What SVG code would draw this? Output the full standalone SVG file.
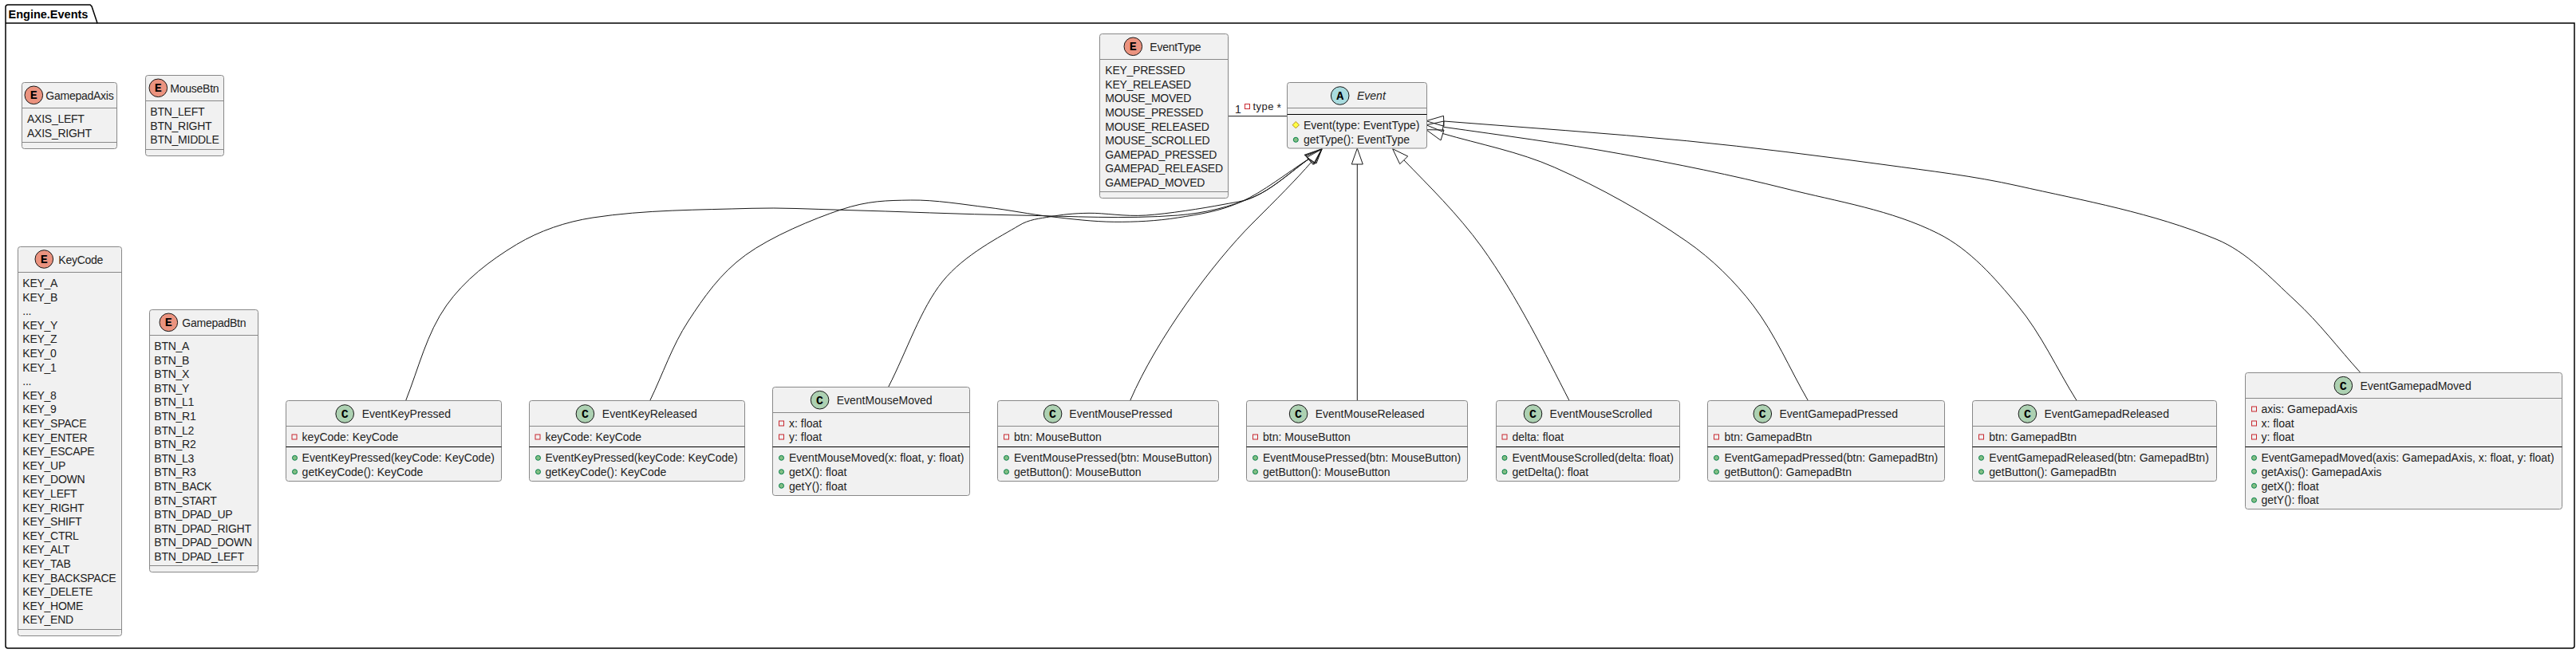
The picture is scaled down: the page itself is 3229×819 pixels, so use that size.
<svg xmlns="http://www.w3.org/2000/svg" width="3229" height="819" viewBox="0 0 3229 819">
<defs>
<style>
text{font-family:"Liberation Sans",Arial,sans-serif;font-size:14px;fill:#222}
.en text{letter-spacing:-.25px}
.bx{fill:#F1F1F1;stroke:#888;stroke-width:1}
.sep{stroke:#888;stroke-width:1;fill:none}
.div{stroke:#000;stroke-width:1;fill:none}
.ic{stroke:#181818;stroke-width:1}
.E{fill:#EB937F}.A{fill:#A9DCDF}.C{fill:#ADD1B2}
text.L{font-family:"Liberation Mono",monospace;font-weight:bold;font-size:15px;text-anchor:middle;fill:#000;letter-spacing:0}
.pv{fill:none;stroke:#C82930;stroke-width:1}
.pb{fill:#84BE84;stroke:#038048;stroke-width:1}
.pt{fill:#FFFF44;stroke:#B38D22;stroke-width:1}
.edge{fill:none;stroke:#181818;stroke-width:1}
.head{fill:none;stroke:#181818;stroke-width:1}
</style>
</defs>
<rect width="3229" height="819" fill="#fff"/>
<g id="package">
<path d="M7,29 L7,9 Q7,6 10,6 L113,6 L115,8 L122,29 L3227,29 L3227,810 Q3227,813 3224,813 L10,813 Q7,813 7,810 Z" fill="none" stroke="#000" stroke-width="1.5"/>
<line x1="7" y1="29" x2="122" y2="29" stroke="#000" stroke-width="1.5"/>
<text x="10.5" y="23" style="font-weight:bold;font-size:14.5px;fill:#000">Engine.Events</text>
</g>
<g id="connectors">
<path class="edge" d="M1539.3,145.7 L1613.7,145.7"/>
<text x="1548" y="142">1</text>
<rect class="pv" x="1560.5" y="130.5" width="6" height="6"/>
<text x="1570.5" y="138" style="font-size:13px;letter-spacing:.5px">type</text>
<text x="1600.5" y="140">*</text>
<path class="edge" d="M508.7,502.3 C524.6,462.3 534.8,418.1 559.7,383 C582.2,351.2 614,326.8 647.4,306.7 C676.5,289.2 709.4,278.2 743,273 C808.2,263 876,263.3 942,261.3 C979,260.2 1017,262.3 1054,263.3 C1128,265.2 1203,268.8 1277,270 C1343,271.1 1410.7,275.2 1476.5,270 C1509.4,267.4 1541.7,259.8 1572,246.7 C1597.7,235.6 1620,213.5 1641,199"/>
<polygon class="head" points="1657.3,186.7 1635,194.3 1648.3,205"/>
<path class="edge" d="M814.8,502.3 C830.8,469.3 842.7,433.4 862.6,403 C882.5,372.6 902.5,343.3 934.4,320 C966.3,296.7 1019.5,274.5 1054,263 C1088.5,251.5 1111.2,251.5 1141.7,251 C1172.2,250.5 1207.8,256.5 1237,260 C1266.2,263.5 1290.4,268.7 1317,271.7 C1343.6,274.7 1370.2,278.1 1396.8,278.3 C1423.4,278.5 1450,277.2 1476.5,273 C1503,268.8 1528.6,265.3 1556,253 C1583.4,240.7 1613,217 1641,199"/>
<polygon class="head" points="1657,186.7 1636,195 1647.5,206"/>
<path class="edge" d="M1113.8,485 C1136.3,441 1154.3,386.7 1181.5,353 C1208.7,319.3 1254.4,296.6 1277,283 C1290,275 1302.3,274.3 1317,271.7 C1331.7,269.1 1345,267.6 1365,267.3 C1385,267 1408.8,271.8 1436.6,270 C1464.4,268.2 1508.1,261.2 1532,256.7 C1555.9,252.2 1561.8,252.6 1580,243 C1598.2,233.4 1621,213.7 1641,199"/>
<polygon class="head" points="1656.5,187 1637,196 1646,206.5"/>
<path class="edge" d="M1416.7,502.3 C1450,425 1520,330 1570,280 C1600,250 1625,225 1644,203"/>
<polygon class="head" points="1657,187 1638,197.5 1650,205"/>
<path class="edge" d="M1701.3,502.3 L1701.3,206"/>
<polygon class="head" points="1701.3,186 1694.3,206 1708.3,206"/>
<path class="edge" d="M1967,502.3 C1937,444 1902,372 1857.5,310 C1827,268 1790,232 1760,201"/>
<polygon class="head" points="1745.6,186.7 1764.7,196 1754.7,205.7"/>
<path class="edge" d="M2266.3,502.3 C2243.3,462.5 2225.4,419.6 2197.5,383 C2174.5,352.8 2145.8,324.7 2114.6,303 C2062.9,267.1 2006.4,235.5 1948.8,210 C1904,190.2 1854.8,181 1807.8,167.3"/>
<polygon class="head" points="1787.7,162.7 1810,163 1806,176"/>
<path class="edge" d="M2603,502.3 C2578,462.3 2559,419.2 2529,383 C2500.3,348.4 2469.9,313.3 2429.7,293 C2370.8,263.3 2303,252.8 2239,236.7 C2170.1,219.4 2101.6,205.6 2031.7,193 C1957.9,179.7 1883.8,169.8 1809.5,159.3"/>
<polygon class="head" points="1787.7,156.7 1810,152 1808,165"/>
<path class="edge" d="M2958.7,467.3 C2931.2,437 2907.2,404.8 2877,377 C2846.1,348.6 2816.8,316 2778,300 C2698.5,267.1 2612.9,251.8 2529,233 C2474.3,220.7 2418.5,214.3 2363,206.7 C2280.7,195.5 2197.2,184.8 2114.6,176.7 C2013.1,166.7 1911,160 1810,152"/>
<polygon class="head" points="1787.7,151.7 1809.5,145.3 1810,158.3"/>
</g>
<g id="GamepadAxis" class="en">
<rect class="bx" x="27.5" y="103.5" width="119" height="83" rx="3"/>
<path class="sep" d="M27.5,135.5H146.5M27.5,178.5H146.5"/>
<circle class="ic E" cx="42.3" cy="119.3" r="11.3"/><text class="L" x="42.3" y="124">E</text>
<text x="57.3" y="125">GamepadAxis</text>
<text x="34" y="154">AXIS_LEFT</text><text x="34" y="171.6">AXIS_RIGHT</text>
</g>
<g id="MouseBtn" class="en">
<rect class="bx" x="182.5" y="94.5" width="98" height="101" rx="3"/>
<path class="sep" d="M182.5,126.5H280.5M182.5,187.5H280.5"/>
<circle class="ic E" cx="198.3" cy="110.3" r="11.3"/><text class="L" x="198.3" y="115">E</text>
<text x="213.3" y="116">MouseBtn</text>
<text x="188.3" y="145">BTN_LEFT</text><text x="188.3" y="162.6">BTN_RIGHT</text><text x="188.3" y="180.2">BTN_MIDDLE</text>
</g>
<g id="KeyCode" class="en">
<rect class="bx" x="22.5" y="309.5" width="130" height="488" rx="3"/>
<path class="sep" d="M22.5,341.5H152.5M22.5,789.5H152.5"/>
<circle class="ic E" cx="55.3" cy="325" r="11.3"/><text class="L" x="55.3" y="330">E</text>
<text x="73.3" y="330.7">KeyCode</text>
<text x="28.3" y="360">KEY_A</text><text x="28.3" y="377.6">KEY_B</text><text x="28.3" y="395.2">...</text><text x="28.3" y="412.8">KEY_Y</text><text x="28.3" y="430.4">KEY_Z</text><text x="28.3" y="448">KEY_0</text><text x="28.3" y="465.6">KEY_1</text><text x="28.3" y="483.2">...</text><text x="28.3" y="500.8">KEY_8</text><text x="28.3" y="518.4">KEY_9</text><text x="28.3" y="536">KEY_SPACE</text><text x="28.3" y="553.6">KEY_ENTER</text><text x="28.3" y="571.2">KEY_ESCAPE</text><text x="28.3" y="588.8">KEY_UP</text><text x="28.3" y="606.4">KEY_DOWN</text><text x="28.3" y="624">KEY_LEFT</text><text x="28.3" y="641.6">KEY_RIGHT</text><text x="28.3" y="659.2">KEY_SHIFT</text><text x="28.3" y="676.8">KEY_CTRL</text><text x="28.3" y="694.4">KEY_ALT</text><text x="28.3" y="712">KEY_TAB</text><text x="28.3" y="729.6">KEY_BACKSPACE</text><text x="28.3" y="747.2">KEY_DELETE</text><text x="28.3" y="764.8">KEY_HOME</text><text x="28.3" y="782.4">KEY_END</text>
</g>
<g id="GamepadBtn" class="en">
<rect class="bx" x="187.5" y="388.5" width="136" height="329" rx="3"/>
<path class="sep" d="M187.5,420.5H323.5M187.5,709.5H323.5"/>
<circle class="ic E" cx="211.3" cy="404.3" r="11.3"/><text class="L" x="211.3" y="409">E</text>
<text x="228.3" y="410">GamepadBtn</text>
<text x="193.3" y="439">BTN_A</text><text x="193.3" y="456.6">BTN_B</text><text x="193.3" y="474.2">BTN_X</text><text x="193.3" y="491.8">BTN_Y</text><text x="193.3" y="509.4">BTN_L1</text><text x="193.3" y="527">BTN_R1</text><text x="193.3" y="544.6">BTN_L2</text><text x="193.3" y="562.2">BTN_R2</text><text x="193.3" y="579.8">BTN_L3</text><text x="193.3" y="597.4">BTN_R3</text><text x="193.3" y="615">BTN_BACK</text><text x="193.3" y="632.6">BTN_START</text><text x="193.3" y="650.2">BTN_DPAD_UP</text><text x="193.3" y="667.8">BTN_DPAD_RIGHT</text><text x="193.3" y="685.4">BTN_DPAD_DOWN</text><text x="193.3" y="703">BTN_DPAD_LEFT</text>
</g>
<g id="EventType" class="en">
<rect class="bx" x="1378.5" y="42.5" width="161" height="206" rx="3"/>
<path class="sep" d="M1378.5,74.5H1539.5M1378.5,240.5H1539.5"/>
<circle class="ic E" cx="1420.3" cy="58.3" r="11.3"/><text class="L" x="1420.3" y="63">E</text>
<text x="1441.3" y="64">EventType</text>
<text x="1385.3" y="93.3">KEY_PRESSED</text><text x="1385.3" y="110.8">KEY_RELEASED</text><text x="1385.3" y="128.4">MOUSE_MOVED</text><text x="1385.3" y="145.9">MOUSE_PRESSED</text><text x="1385.3" y="163.5">MOUSE_RELEASED</text><text x="1385.3" y="181">MOUSE_SCROLLED</text><text x="1385.3" y="198.6">GAMEPAD_PRESSED</text><text x="1385.3" y="216.1">GAMEPAD_RELEASED</text><text x="1385.3" y="233.6">GAMEPAD_MOVED</text>
</g>
<g id="Event">
<rect class="bx" x="1613.5" y="103.5" width="175" height="82.5" rx="3"/>
<path class="sep" d="M1613.5,135.5H1788.5"/><path class="div" d="M1613.5,143.5H1788.5"/>
<circle class="ic A" cx="1679.7" cy="120" r="11.3"/><text class="L" x="1679.7" y="125">A</text>
<text x="1701" y="125" style="font-style:italic">Event</text>
<polygon class="pt" points="1624.3,152.5 1628.5,156.7 1624.3,160.9 1620.1,156.7"/>
<text x="1634" y="162">Event(type: EventType)</text>
<circle class="pb" cx="1624.3" cy="175.3" r="3"/>
<text x="1634" y="180">getType(): EventType</text>
</g>
<g id="EventKeyPressed">
<rect class="bx" x="358.5" y="502.5" width="270" height="101" rx="3"/>
<path class="sep" d="M358.5,534.5H628.5"/><path class="div" d="M358.5,560.5H628.5"/>
<circle class="ic C" cx="432.2" cy="519" r="11.3"/><text class="L" x="432.2" y="524">C</text>
<text x="453.7" y="524">EventKeyPressed</text>
<rect class="pv" x="366" y="545" width="6" height="6"/><text x="378.6" y="553">keyCode: KeyCode</text>
<circle class="pb" cx="369.5" cy="574.3" r="3"/><text x="378.6" y="579.3">EventKeyPressed(keyCode: KeyCode)</text>
<circle class="pb" cx="369.5" cy="591.7" r="3"/><text x="378.6" y="597">getKeyCode(): KeyCode</text>
</g>
<g id="EventKeyReleased">
<rect class="bx" x="663.5" y="502.5" width="270" height="101" rx="3"/>
<path class="sep" d="M663.5,534.5H933.5"/><path class="div" d="M663.5,560.5H933.5"/>
<circle class="ic C" cx="733.4" cy="519" r="11.3"/><text class="L" x="733.4" y="524">C</text>
<text x="754.8" y="524">EventKeyReleased</text>
<rect class="pv" x="671" y="545" width="6" height="6"/><text x="683.5" y="553">keyCode: KeyCode</text>
<circle class="pb" cx="674.5" cy="574.3" r="3"/><text x="683.5" y="579.3">EventKeyPressed(keyCode: KeyCode)</text>
<circle class="pb" cx="674.5" cy="591.7" r="3"/><text x="683.5" y="597">getKeyCode(): KeyCode</text>
</g>
<g id="EventMouseMoved">
<rect class="bx" x="968.5" y="485.5" width="247" height="136" rx="3"/>
<path class="sep" d="M968.5,517.5H1215.5"/><path class="div" d="M968.5,560.5H1215.5"/>
<circle class="ic C" cx="1027.6" cy="501.7" r="11.3"/><text class="L" x="1027.6" y="507">C</text>
<text x="1048.7" y="507">EventMouseMoved</text>
<rect class="pv" x="976.5" y="528" width="6" height="6"/><text x="989" y="536">x: float</text>
<rect class="pv" x="976.5" y="545" width="6" height="6"/><text x="989" y="553">y: float</text>
<circle class="pb" cx="979.5" cy="574.3" r="3"/><text x="989" y="579.3">EventMouseMoved(x: float, y: float)</text>
<circle class="pb" cx="979.5" cy="591.7" r="3"/><text x="989" y="597">getX(): float</text>
<circle class="pb" cx="979.5" cy="609.3" r="3"/><text x="989" y="614.5">getY(): float</text>
</g>
<g id="EventMousePressed">
<rect class="bx" x="1250.5" y="502.5" width="277" height="101" rx="3"/>
<path class="sep" d="M1250.5,534.5H1527.5"/><path class="div" d="M1250.5,560.5H1527.5"/>
<circle class="ic C" cx="1319.6" cy="519" r="11.3"/><text class="L" x="1319.6" y="524">C</text>
<text x="1340.3" y="524">EventMousePressed</text>
<rect class="pv" x="1258.5" y="545" width="6" height="6"/><text x="1271" y="553">btn: MouseButton</text>
<circle class="pb" cx="1261.5" cy="574.3" r="3"/><text x="1271" y="579.3">EventMousePressed(btn: MouseButton)</text>
<circle class="pb" cx="1261.5" cy="591.7" r="3"/><text x="1271" y="597">getButton(): MouseButton</text>
</g>
<g id="EventMouseReleased">
<rect class="bx" x="1562.5" y="502.5" width="277" height="101" rx="3"/>
<path class="sep" d="M1562.5,534.5H1839.5"/><path class="div" d="M1562.5,560.5H1839.5"/>
<circle class="ic C" cx="1627.6" cy="519" r="11.3"/><text class="L" x="1627.6" y="524">C</text>
<text x="1648.7" y="524">EventMouseReleased</text>
<rect class="pv" x="1570.5" y="545" width="6" height="6"/><text x="1583" y="553">btn: MouseButton</text>
<circle class="pb" cx="1573.5" cy="574.3" r="3"/><text x="1583" y="579.3">EventMousePressed(btn: MouseButton)</text>
<circle class="pb" cx="1573.5" cy="591.7" r="3"/><text x="1583" y="597">getButton(): MouseButton</text>
</g>
<g id="EventMouseScrolled">
<rect class="bx" x="1875.5" y="502.5" width="230" height="101" rx="3"/>
<path class="sep" d="M1875.5,534.5H2105.5"/><path class="div" d="M1875.5,560.5H2105.5"/>
<circle class="ic C" cx="1921.5" cy="519" r="11.3"/><text class="L" x="1921.5" y="524">C</text>
<text x="1942.6" y="524">EventMouseScrolled</text>
<rect class="pv" x="1883" y="545" width="6" height="6"/><text x="1895.5" y="553">delta: float</text>
<circle class="pb" cx="1886" cy="574.3" r="3"/><text x="1895.5" y="579.3">EventMouseScrolled(delta: float)</text>
<circle class="pb" cx="1886" cy="591.7" r="3"/><text x="1895.5" y="597">getDelta(): float</text>
</g>
<g id="EventGamepadPressed">
<rect class="bx" x="2140.5" y="502.5" width="297" height="101" rx="3"/>
<path class="sep" d="M2140.5,534.5H2437.5"/><path class="div" d="M2140.5,560.5H2437.5"/>
<circle class="ic C" cx="2209.3" cy="519" r="11.3"/><text class="L" x="2209.3" y="524">C</text>
<text x="2230.4" y="524">EventGamepadPressed</text>
<rect class="pv" x="2148.5" y="545" width="6" height="6"/><text x="2161.5" y="553">btn: GamepadBtn</text>
<circle class="pb" cx="2151.5" cy="574.3" r="3"/><text x="2161.5" y="579.3">EventGamepadPressed(btn: GamepadBtn)</text>
<circle class="pb" cx="2151.5" cy="591.7" r="3"/><text x="2161.5" y="597">getButton(): GamepadBtn</text>
</g>
<g id="EventGamepadReleased">
<rect class="bx" x="2472.5" y="502.5" width="306" height="101" rx="3"/>
<path class="sep" d="M2472.5,534.5H2778.5"/><path class="div" d="M2472.5,560.5H2778.5"/>
<circle class="ic C" cx="2541.4" cy="519" r="11.3"/><text class="L" x="2541.4" y="524">C</text>
<text x="2562.5" y="524">EventGamepadReleased</text>
<rect class="pv" x="2480.5" y="545" width="6" height="6"/><text x="2493.3" y="553">btn: GamepadBtn</text>
<circle class="pb" cx="2483.5" cy="574.3" r="3"/><text x="2493.3" y="579.3">EventGamepadReleased(btn: GamepadBtn)</text>
<circle class="pb" cx="2483.5" cy="591.7" r="3"/><text x="2493.3" y="597">getButton(): GamepadBtn</text>
</g>
<g id="EventGamepadMoved">
<rect class="bx" x="2814.5" y="467.5" width="397" height="171" rx="3"/>
<path class="sep" d="M2814.5,499.5H3211.5"/><path class="div" d="M2814.5,560.5H3211.5"/>
<circle class="ic C" cx="2937.3" cy="483.7" r="11.3"/><text class="L" x="2937.3" y="489">C</text>
<text x="2958.4" y="489">EventGamepadMoved</text>
<rect class="pv" x="2822.5" y="510" width="6" height="6"/><text x="2834.4" y="518">axis: GamepadAxis</text>
<rect class="pv" x="2822.5" y="528" width="6" height="6"/><text x="2834.4" y="536">x: float</text>
<rect class="pv" x="2822.5" y="545" width="6" height="6"/><text x="2834.4" y="553">y: float</text>
<circle class="pb" cx="2825.5" cy="574.3" r="3"/><text x="2834.4" y="579.3">EventGamepadMoved(axis: GamepadAxis, x: float, y: float)</text>
<circle class="pb" cx="2825.5" cy="591.3" r="3"/><text x="2834.4" y="597">getAxis(): GamepadAxis</text>
<circle class="pb" cx="2825.5" cy="609.3" r="3"/><text x="2834.4" y="614.5">getX(): float</text>
<circle class="pb" cx="2825.5" cy="627.3" r="3"/><text x="2834.4" y="632">getY(): float</text>
</g>
</svg>
